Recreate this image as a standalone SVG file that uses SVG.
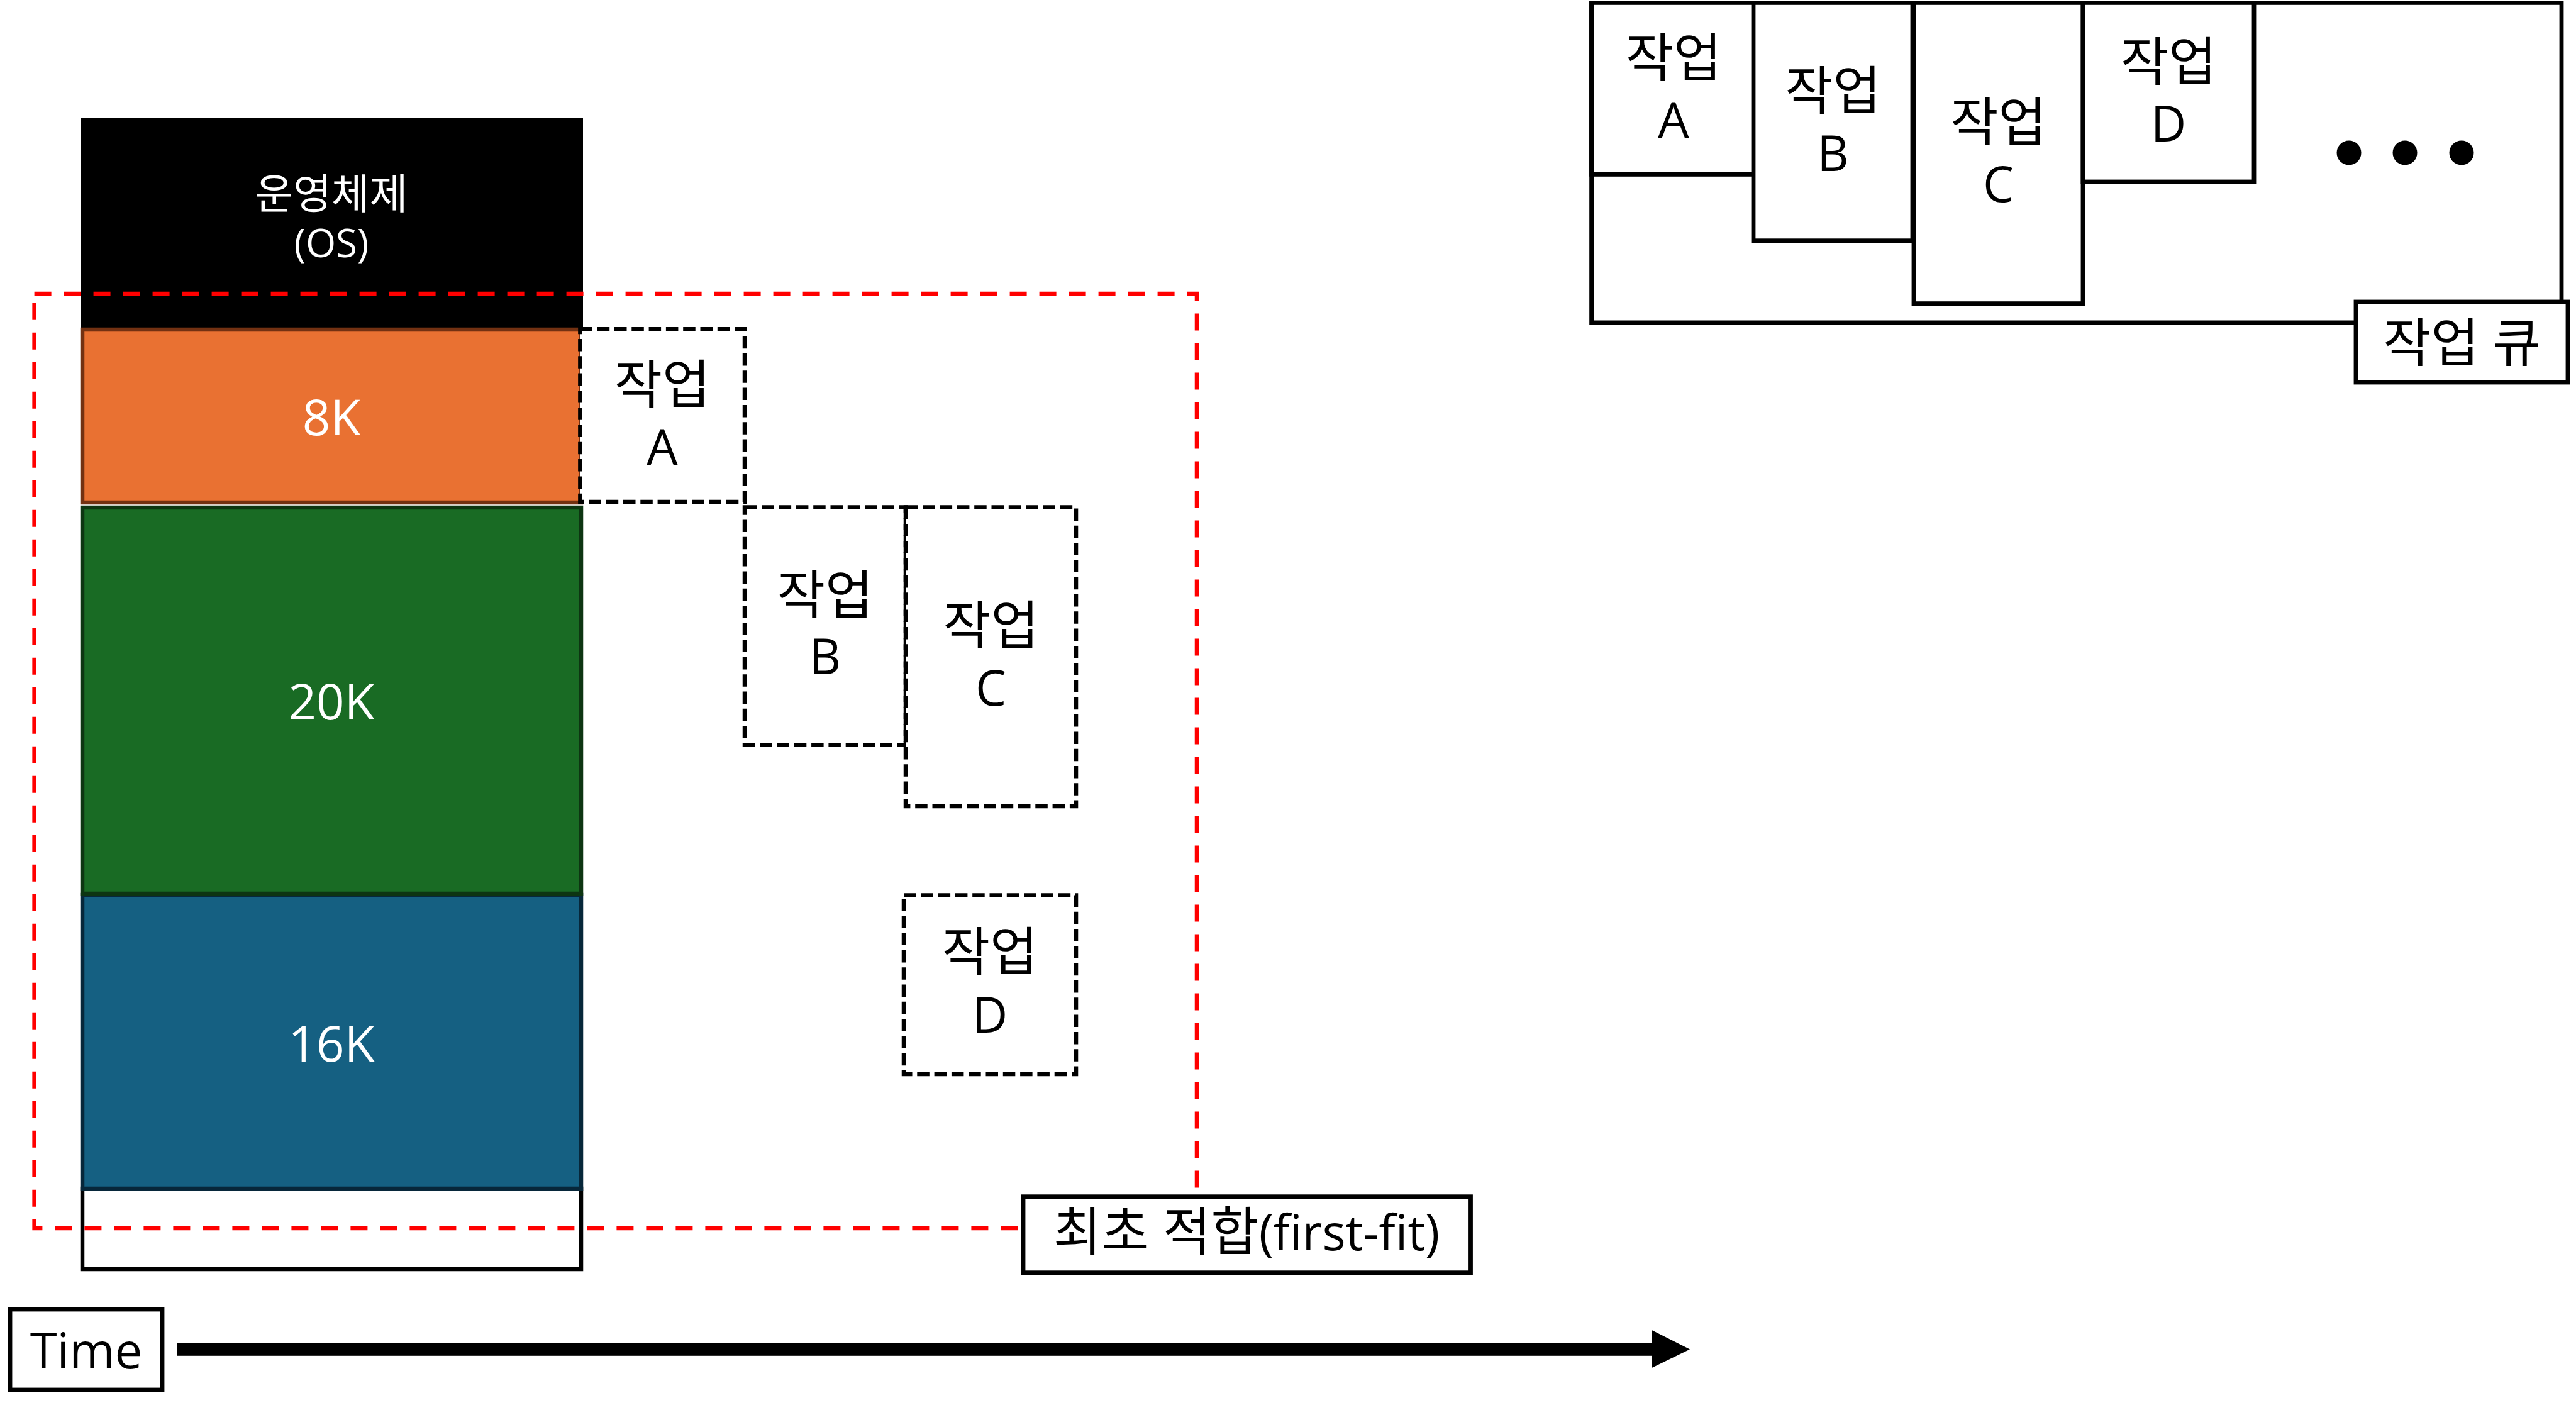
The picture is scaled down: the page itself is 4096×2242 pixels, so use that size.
<svg xmlns="http://www.w3.org/2000/svg" width="4096" height="2242" viewBox="0 0 4096 2242">
<style>
text{font-family:"Open Sans","Noto Sans CJK KR",sans-serif;text-anchor:middle}
.t{font-size:78px;fill:#000}
.k{font-size:83px;fill:#000}
.w{font-size:78px;fill:#fff}
.os{font-size:62px;fill:#fff}
.osk{font-size:66px;fill:#fff}
.mem{stroke-width:6.5}
.job{fill:#fff;stroke:#000;stroke-width:6.5;stroke-dasharray:19.5 7.8}
.q{fill:#fff;stroke:#000;stroke-width:6.8}
.box{fill:#fff;stroke:#000;stroke-width:6.8}
</style>
<rect width="4096" height="2242" fill="#fff"/>
<g id="memory">
<g id="os"><rect x="128" y="188" width="799" height="333" fill="#000"/>
<text class="osk" x="527" y="332">운영체제</text><text class="os" x="527" y="409">(OS)</text></g>
<g id="free"><rect class="mem" x="131" y="1890" width="793" height="128" fill="#fff" stroke="#000"/></g>
<g id="k16"><rect class="mem" x="131" y="1423" width="793" height="467" fill="#156082" stroke="#07273A"/>
<text class="w" x="527" y="1688">16K</text></g>
<g id="k20"><rect class="mem" x="131" y="807" width="793" height="614" fill="#196B24" stroke="#0D3512"/>
<text class="w" x="527" y="1144">20K</text></g>
<g id="k8"><rect class="mem" x="131" y="524" width="793" height="275" fill="#E97132" stroke="#733112"/>
<text class="w" x="527" y="692">8K</text></g>
</g>
<g id="first-fit-area"><rect x="54.6" y="467" width="1848.4" height="1486" fill="none" stroke="#f00" stroke-width="6.5" stroke-dasharray="27 20"/></g>
<g id="jobA"><rect class="job" x="922.4" y="523.3" width="261.6" height="274.7"/>
<text class="k" x="1053" y="641">작업</text><text class="t" x="1053" y="739">A</text></g>
<g id="jobB"><rect class="job" x="1184" y="806.5" width="256" height="378"/>
<text class="k" x="1312" y="976">작업</text><text class="t" x="1312" y="1072">B</text></g>
<g id="jobC"><rect class="job" x="1440" y="806.5" width="271" height="475.5"/>
<text class="k" x="1575.5" y="1024">작업</text><text class="t" x="1575.5" y="1122">C</text></g>
<g id="jobD"><rect class="job" x="1437" y="1423.5" width="274" height="284.5"/>
<text class="k" x="1574" y="1543">작업</text><text class="t" x="1574" y="1642">D</text></g>
<g id="label-firstfit"><rect class="box" x="1627" y="1902.7" width="711.5" height="121"/>
<text class="t" x="1982" y="1988"><tspan font-size="83">최초 적합</tspan>(first-fit)</text></g>
<g id="queue">
<rect class="q" x="2530.6" y="4.4" width="1542.4" height="508.5"/>
<g id="qA"><rect class="q" x="2530.6" y="4.4" width="261.3" height="273"/>
<text class="k" x="2661" y="121.5">작업</text><text class="t" x="2661" y="219.4">A</text></g>
<g id="qB"><rect class="q" x="2788" y="4.4" width="253" height="378.3"/>
<text class="k" x="2914.5" y="174">작업</text><text class="t" x="2914.5" y="272">B</text></g>
<g id="qC"><rect class="q" x="3043" y="4.4" width="269" height="478.2"/>
<text class="k" x="3177.5" y="224">작업</text><text class="t" x="3177.5" y="321">C</text></g>
<g id="qD"><rect class="q" x="3312" y="4.4" width="272" height="284.6"/>
<text class="k" x="3448" y="127.5">작업</text><text class="t" x="3448" y="225">D</text></g>
<g id="dots"><circle cx="3735" cy="243" r="19.5"/><circle cx="3824" cy="243" r="19.5"/><circle cx="3914" cy="243" r="19.5"/></g>
<g id="label-queue"><rect class="box" x="3746" y="480" width="337" height="128"/>
<text class="k" x="3914.5" y="574.5">작업 큐</text></g>
</g>
<g id="time"><rect class="box" x="16" y="2082" width="242" height="128"/>
<text class="t" x="137" y="2176">Time</text></g>
<g id="connectors">
<rect x="282" y="2135.3" width="2346" height="20.5" fill="#000"/>
<polygon points="2626,2114.8 2687,2145.5 2626,2175.2" fill="#000"/>
</g>
</svg>
